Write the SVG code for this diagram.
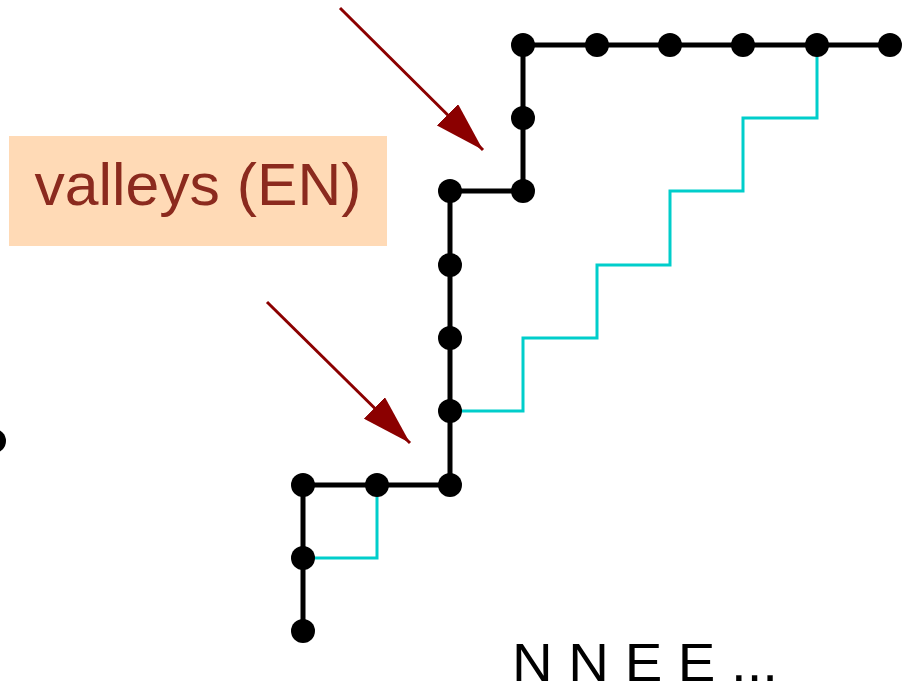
<svg xmlns="http://www.w3.org/2000/svg" width="909" height="693" viewBox="0 0 909 693">
<defs>
<style>
.path{fill:none;stroke:#000;stroke-width:5;stroke-linejoin:miter}
.cyan{fill:none;stroke:#00cecb;stroke-width:3}
.arrow{stroke:#8b0000;stroke-width:3;fill:none}
.dot{fill:#000}
.lbl{font-family:"Comic Sans MS","Liberation Sans",sans-serif;fill:#8b2a1e;font-size:60px}
.seq{font-family:"Liberation Sans",sans-serif;fill:#000;font-size:54px}
</style>
<marker id="ah" markerUnits="userSpaceOnUse" markerWidth="52" markerHeight="30" refX="50" refY="15" orient="auto">
<path d="M0,0 L50,15 L0,30 Z" fill="#8b0000"/>
</marker>
</defs>
<rect width="909" height="693" fill="#fff"/>
<g id="connectors">
<polyline class="path" points="303,631 303,485 450,485 450,191 523,191 523,45 890,45"/>
<polyline class="cyan" points="303,558 377,558 377,485"/>
<polyline class="cyan" points="450,411 523,411 523,338 597,338 597,265 670,265 670,191 743,191 743,118 817,118 817,45"/>
<line class="arrow" x1="340" y1="8" x2="483" y2="150" marker-end="url(#ah)"/>
<line class="arrow" x1="267" y1="302" x2="410" y2="443" marker-end="url(#ah)"/>
</g>
<g id="dots">
<circle class="dot" cx="303" cy="631" r="12"/>
<circle class="dot" cx="303" cy="558" r="12"/>
<circle class="dot" cx="303" cy="485" r="12"/>
<circle class="dot" cx="377" cy="485" r="12"/>
<circle class="dot" cx="450" cy="485" r="12"/>
<circle class="dot" cx="450" cy="411" r="12"/>
<circle class="dot" cx="450" cy="338" r="12"/>
<circle class="dot" cx="450" cy="265" r="12"/>
<circle class="dot" cx="450" cy="191" r="12"/>
<circle class="dot" cx="523" cy="191" r="12"/>
<circle class="dot" cx="523" cy="118" r="12"/>
<circle class="dot" cx="523" cy="45" r="12"/>
<circle class="dot" cx="597" cy="45" r="12"/>
<circle class="dot" cx="670" cy="45" r="12"/>
<circle class="dot" cx="743" cy="45" r="12"/>
<circle class="dot" cx="817" cy="45" r="12"/>
<circle class="dot" cx="890" cy="45" r="12"/>
<circle class="dot" cx="-6" cy="441" r="12"/>
</g>
<g id="label">
<rect x="9" y="136" width="378" height="110" fill="#ffdab6"/>
<text class="lbl" x="198" y="205" text-anchor="middle" textLength="327" lengthAdjust="spacingAndGlyphs">valleys (EN)</text>
</g>
<g id="sequence">
<text class="seq" x="512" y="681" textLength="266" lengthAdjust="spacingAndGlyphs">N N E E ...</text>
</g>
</svg>
